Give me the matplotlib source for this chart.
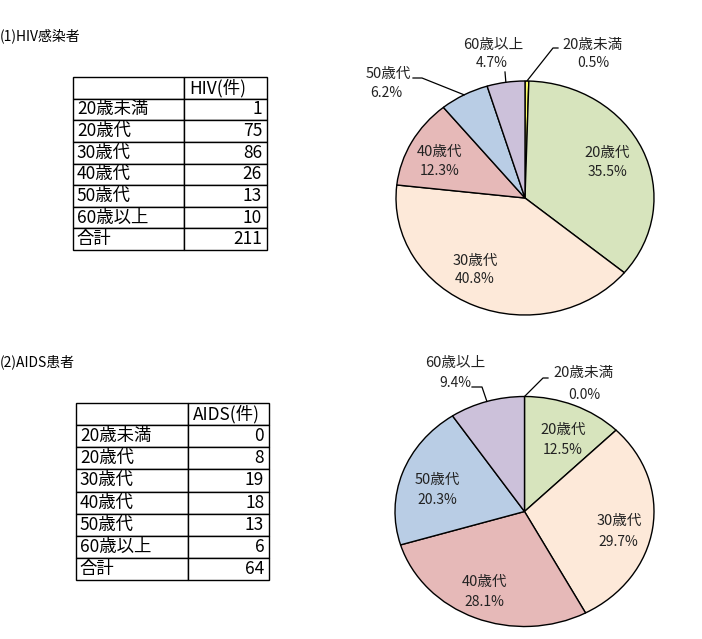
import numpy as np
import matplotlib
matplotlib.use("Agg")
import matplotlib.pyplot as plt

plt.rcParams['font.family'] = ['Noto Sans CJK JP', 'DejaVu Sans']

# ---------------- data ----------------
categories = ["20歳未満", "20歳代", "30歳代", "40歳代", "50歳代", "60歳以上"]
hiv_counts = [1, 75, 86, 26, 13, 10]
aids_counts = [0, 8, 19, 18, 13, 6]
hiv_title = "(1)HIV感染者"
aids_title = "(2)AIDS患者"
hiv_header = "HIV(件)"
aids_header = "AIDS(件)"
total_label = "合計"
colors = ["#FFFF66", "#D7E4BD", "#FDE9D9", "#E6B9B8", "#B9CDE5", "#CCC1DA"]

W, H = 702, 639
fig = plt.figure(figsize=(W / 100, H / 100), dpi=100)


def fx(px):
    return px / W


def fy(py):
    return 1 - py / H


def draw_table(counts, header, left, right, top, bottom, split):
    ax = fig.add_axes([fx(left), fy(bottom), fx(right - left), (bottom - top) / H])
    ax.axis('off')
    rows = [["", header]] + [[c, str(v)] for c, v in zip(categories, counts)] + \
           [[total_label, str(sum(counts))]]
    w1 = (split - left) / (right - left)
    tbl = ax.table(cellText=rows, colWidths=[w1, 1 - w1], bbox=[0, 0, 1, 1])
    tbl.auto_set_font_size(False)
    for (r, c), cell in tbl.get_celld().items():
        cell.set_linewidth(1.0)
        cell.set_edgecolor('black')
        cell.get_text().set_fontsize(12.5)
        cell.get_text().set_color('black')
        if c == 0:
            cell._loc = 'left'
            cell.PAD = 0.035
            cell.get_text().set_ha('left')
        else:
            if r == 0:
                cell._loc = 'left'
                cell.get_text().set_ha('left')
                cell.PAD = 0.06
            else:
                cell._loc = 'right'
                cell.get_text().set_ha('right')
                cell.PAD = 0.06
    return ax


def draw_pie(counts, cx, cy, rx, ry, label_pos, leaders):
    m = 1.03
    ax = fig.add_axes([fx(cx - rx * m), fy(cy + ry * m), fx(2 * rx * m), 2 * ry * m / H])
    wedges, _ = ax.pie(counts, colors=colors, startangle=90, counterclock=False,
                       wedgeprops=dict(edgecolor='black', linewidth=1.0))
    ax.set_aspect('auto')
    ax.set_xlim(-m, m)
    ax.set_ylim(-m, m)
    ax.axis('off')
    total = sum(counts)
    for i, (cat, v) in enumerate(zip(categories, counts)):
        pct = f"{v / total * 100:.1f}%"
        (x1, y1), (x2, y2) = label_pos[i]
        fig.text(fx(x1), fy(y1), cat, ha='center', va='center', fontsize=10.5, color='#222222')
        fig.text(fx(x2), fy(y2), pct, ha='center', va='center', fontsize=10, color='#222222')
    # leader lines: from wedge edge (mid-angle) to elbow points
    cum = np.cumsum([0] + list(counts)) / total
    inv = ax.transData.inverted()
    for i, pts in leaders.items():
        mid = (cum[i] + cum[i + 1]) / 2
        ang = np.deg2rad(90 - mid * 360)
        xs = [np.cos(ang)]
        ys = [np.sin(ang)]
        for (px, py) in pts:
            d = inv.transform((px, H - py))
            xs.append(d[0])
            ys.append(d[1])
        ax.plot(xs, ys, color='black', lw=0.9, clip_on=False)
    return ax


# titles
fig.text(fx(0), fy(36), hiv_title, ha='left', va='center', fontsize=10)
fig.text(fx(0), fy(362), aids_title, ha='left', va='center', fontsize=10)

draw_table(hiv_counts, hiv_header, 73, 267, 77, 250, 184)
draw_table(aids_counts, aids_header, 76, 269, 403, 580, 188)

hiv_labels = [((593, 45), (593, 63)), ((607, 153), (607, 172)), ((475, 261), (475, 279)),
              ((440, 152), (440, 171)), ((388, 74), (386, 93)), ((493, 45), (492, 63))]
hiv_leaders = {0: [(553, 48), (558, 48)], 4: [(422, 78), (413, 78)], 5: [(505, 72)]}
draw_pie(hiv_counts, 525, 198, 129, 117, hiv_labels, hiv_leaders)

aids_labels = [((584, 373), (584, 395)), ((563, 430), (563, 450)), ((619, 521), (618, 542)),
               ((485, 582), (484, 602)), ((437, 480), (437, 500)), ((455, 363), (455, 383))]
aids_leaders = {0: [(543, 378), (548, 378)], 5: [(482, 387), (472, 387)]}
draw_pie(aids_counts, 524.5, 511.5, 129.5, 115, aids_labels, aids_leaders)

fig.savefig("out.png", dpi=100, facecolor='white')
